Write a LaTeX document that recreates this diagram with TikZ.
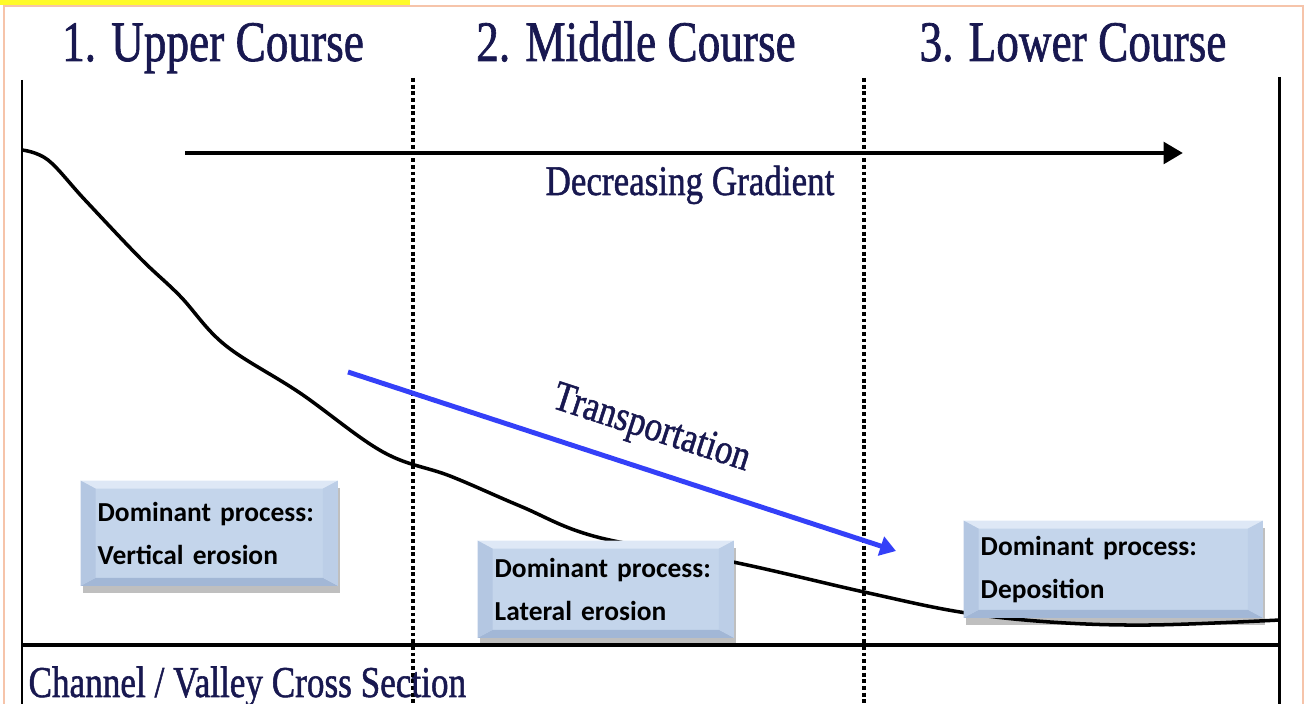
\documentclass[tikz,border=0pt]{standalone}
\usepackage{fontspec}
\setmainfont{Liberation Serif}
\newfontfamily\courseserif[FakeBold=1.3]{Liberation Serif}
\newfontfamily\boxfont{Carlito}
\usetikzlibrary{arrows.meta,shadows}
\definecolor{coursetext}{RGB}{24,24,80}
\definecolor{boxfill}{RGB}{196,213,235}
\definecolor{boxtop}{RGB}{222,232,246}
\definecolor{boxleft}{RGB}{180,199,226}
\definecolor{boxright}{RGB}{188,206,231}
\definecolor{boxbottom}{RGB}{162,183,214}
\definecolor{framepeach}{RGB}{246,196,170}
\definecolor{markyellow}{RGB}{255,250,40}
\definecolor{transblue}{RGB}{52,64,248}
\newcommand{\labelSize}[1]{\courseserif\fontsize{#1}{#1}\selectfont}

\begin{document}
\begin{tikzpicture}[x=0.01cm, y=-0.01cm]
  \tikzset{
    serif label/.style={text=coursetext, anchor=base, inner sep=0pt},
    divider/.style={line width=0.9pt, dash pattern=on 1.1pt off 0.8pt},
    edge/.style={line width=0.85pt},
    bevel/.style={path picture={
      \fill[boxtop] (path picture bounding box.north west) -- (path picture bounding box.north east)
        -- ([shift={(-1.5mm,-0.8mm)}]path picture bounding box.north east)
        -- ([shift={(1.5mm,-0.8mm)}]path picture bounding box.north west) -- cycle;
      \fill[boxbottom] (path picture bounding box.south west) -- (path picture bounding box.south east)
        -- ([shift={(-1.5mm,0.8mm)}]path picture bounding box.south east)
        -- ([shift={(1.5mm,0.8mm)}]path picture bounding box.south west) -- cycle;
      \fill[boxleft] (path picture bounding box.north west) -- (path picture bounding box.south west)
        -- ([shift={(1.5mm,0.8mm)}]path picture bounding box.south west)
        -- ([shift={(1.5mm,-0.8mm)}]path picture bounding box.north west) -- cycle;
      \fill[boxright] (path picture bounding box.north east) -- (path picture bounding box.south east)
        -- ([shift={(-1.5mm,0.8mm)}]path picture bounding box.south east)
        -- ([shift={(-1.5mm,-0.8mm)}]path picture bounding box.north east) -- cycle;
    }},
    procbox/.style={fill=boxfill, bevel,
      drop shadow={shadow xshift=0.2mm, shadow yshift=-0.7mm, opacity=0.25, fill=black},
      anchor=north west, align=left, inner xsep=1.7mm, inner ysep=0pt, text width=#1,
      font=\boxfont\bfseries\fontsize{7.8}{12.2}\selectfont}
  }
  \useasboundingbox (0,0) rectangle (1306,704);
  \fill[markyellow] (0,0) rectangle (410,5);
  \draw[framepeach, line width=0.5pt] (4,704) -- (4,6) -- (1303,6) -- (1303,704);

  \node[serif label, font=\labelSize{16.3}, xscale=0.79] (upper) at (213,61) {1. Upper Course};
  \node[serif label, font=\labelSize{16.3}, xscale=0.79] (middle) at (636,61) {2. Middle Course};
  \node[serif label, font=\labelSize{16.3}, xscale=0.79] (lower) at (1073,61) {3. Lower Course};

  \draw[edge] (22,80) -- (22,704);
  \draw[edge] (1279,77) -- (1279,704);
  \draw[divider] (413,78) -- (413,704);
  \draw[divider] (864,78) -- (864,704);
  \draw[line width=1.1pt] (22,645) -- (1279,645);

  \draw[line width=1pt] plot[smooth, tension=0.6] coordinates {
    (22,150) (48,160) (85,200) (140,258) (180,296) (225,345) (300,393)
    (383,452) (450,476) (520,506) (597,537) (733,562) (864,592) (960,612)
    (1050,622) (1150,625) (1280,620)};

  \coordinate (grad-start) at (185,153);
  \coordinate (grad-end) at (1183,153);
  \draw[line width=1.4pt, -{Triangle[length=5.5pt,width=6pt]}] (grad-start) -- (grad-end);
  \node[serif label, font=\labelSize{12}, xscale=0.83] (gradient) at (690,195) {Decreasing Gradient};

  \coordinate (trans-start) at (348,372);
  \coordinate (trans-end) at (896,551);
  \draw[transblue, line width=1.4pt, -{Triangle[length=4.5pt,width=5.5pt]}] (trans-start) -- (trans-end);
  \node[text=coursetext, font=\labelSize{12}, rotate=-18, xscale=0.83, inner sep=0pt] (transport) at (651,430) {Transportation};

  \node[procbox=22.3mm, minimum height=10.5mm] (vertical-box) at (80,480) {Dominant process:\\Vertical erosion};
  \node[procbox=22.2mm, minimum height=9.7mm] (lateral-box) at (477,540) {Dominant process:\\Lateral erosion};
  \node[procbox=26.5mm, minimum height=9.7mm] (deposit-box) at (963,520) {Dominant process:\\Deposition};

  \node[serif label, anchor=base west, font=\labelSize{12.5}, xscale=0.8] (section) at (28,697) {Channel / Valley Cross Section};
\end{tikzpicture}
\end{document}
